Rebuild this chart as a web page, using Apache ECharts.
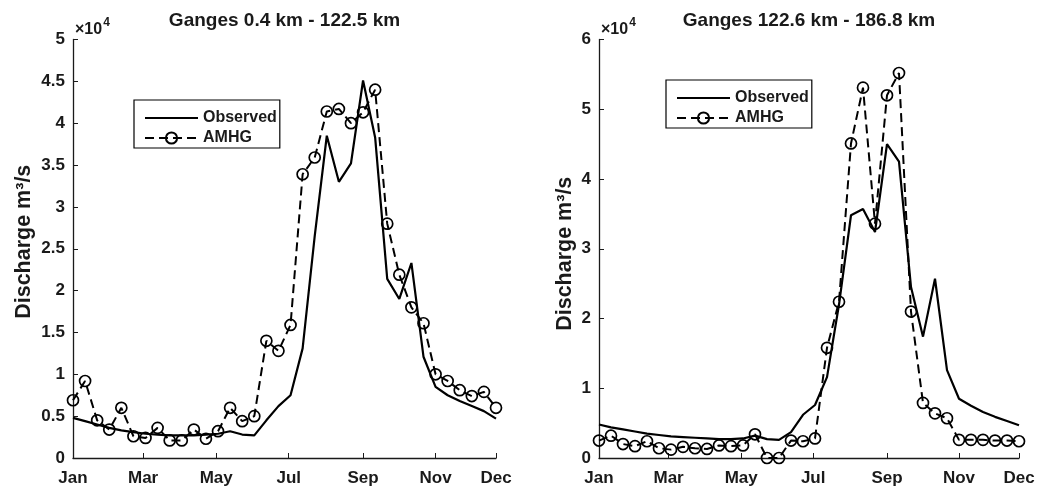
<!DOCTYPE html>
<html>
<head>
<meta charset="utf-8">
<script src="https://cdn.jsdelivr.net/npm/echarts@6/dist/echarts.min.js"></script>
<style>
  html, body { margin: 0; padding: 0; background: #fff; }
  #chart { width: 1045px; height: 489px; }
</style>
</head>
<body>
<div id="chart"></div>
<script>
// dekad index (3 per month) along the year
const dekads = [1, 2, 3, 4, 5, 6, 7, 8, 9, 10, 11, 12, 13, 14, 15, 16, 17, 18,
  19, 20, 21, 22, 23, 24, 25, 26, 27, 28, 29, 30, 31, 32, 33, 34, 35, 36]

// month tick positions on the dekad scale, and their labels
const monthTicks = [1, 6.8, 12.85, 18.85, 25, 31, 36]
const monthLabels = ['Jan', 'Mar', 'May', 'Jul', 'Sep', 'Nov', 'Dec']

const panelTitles = ['Ganges 0.4 km - 122.5 km', 'Ganges 122.6 km - 186.8 km']
const yMax = [50000, 60000]
const yStep = [5000, 10000]

// discharge, m3/s
const upstreamObserved = [4800, 4400, 4000, 3600, 3300, 3100, 2900, 2800, 2700, 2700, 2700, 2800,
  2900, 3200, 2800, 2700, 4500, 6200, 7500, 13100, 26500, 38500, 33000, 35200,
  45100, 38300, 21400, 19000, 23300, 12100, 8500, 7500, 6800, 6200, 5600, 4700]
const upstreamAmhg = [6900, 9200, 4500, 3400, 6000, 2600, 2400, 3600, 2100, 2100, 3400, 2300,
  3200, 6000, 4400, 5000, 14000, 12800, 15900, 33900, 35900, 41400, 41700, 40000,
  41300, 44000, 28000, 21900, 18000, 16100, 10000, 9200, 8100, 7400, 7900, 6000]

const downstreamObserved = [4800, 4400, 4100, 3800, 3500, 3300, 3100, 3000, 2900, 2800, 2700, 2700,
  2800, 3200, 2700, 2600, 3700, 6200, 7600, 11600, 22000, 34800, 35700, 32400,
  45000, 42500, 24500, 17400, 25700, 12600, 8500, 7500, 6600, 5900, 5300, 4700]
const downstreamAmhg = [2500, 3200, 2000, 1700, 2400, 1400, 1200, 1600, 1400, 1300, 1800, 1700,
  1800, 3400, 0, 0, 2500, 2400, 2800, 15800, 22400, 45100, 53100, 33600,
  52000, 55200, 21000, 7900, 6400, 5700, 2600, 2600, 2600, 2500, 2500, 2400]

const FONT = "'Liberation Sans', Arial, Helvetica, sans-serif"
const INK = '#1a1a1a'

const panels = [
  { left: 73, width: 423, observed: upstreamObserved, amhg: upstreamAmhg,
    nameGap: 38, namePad: [0, 0, 0, 14], legendLeft: 134, legendTop: 100 },
  { left: 599, width: 420, observed: downstreamObserved, amhg: downstreamAmhg,
    nameGap: 23, namePad: [0, 10, 0, 0], legendLeft: 666, legendTop: 80 }
]

const chart = echarts.init(document.getElementById('chart'), null, { renderer: 'canvas' })

const grid = [], xAxis = [], yAxis = [], series = [], title = [], legend = []

panels.forEach((p, i) => {
  grid.push({ left: p.left, width: p.width, top: 39.5, height: 418.5, containLabel: false })

  xAxis.push({
    type: 'value', gridIndex: i, min: 1, max: 36,
    axisLine: { lineStyle: { color: INK, width: 1.3 } },
    axisTick: { inside: true, length: 5, customValues: monthTicks, lineStyle: { color: INK } },
    axisLabel: {
      customValues: monthTicks, margin: 12,
      color: INK, fontFamily: FONT, fontWeight: 'bold', fontSize: 17,
      formatter: v => monthLabels[monthTicks.indexOf(v)]
    },
    splitLine: { show: false }
  })

  yAxis.push({
    type: 'value', gridIndex: i, min: 0, max: yMax[i], interval: yStep[i],
    name: 'Discharge m³/s', nameLocation: 'middle', nameGap: p.nameGap,
    nameTextStyle: {
      color: INK, fontFamily: FONT, fontWeight: 'bold', fontSize: 21.5, padding: p.namePad
    },
    axisLine: { show: true, lineStyle: { color: INK, width: 1.3 } },
    axisTick: { show: true, inside: true, length: 5, lineStyle: { color: INK } },
    axisLabel: {
      margin: 8, color: INK, fontFamily: FONT, fontWeight: 'bold', fontSize: 17,
      formatter: v => String(v / 10000)
    },
    splitLine: { show: false }
  })

  series.push({
    name: 'Observed', type: 'line', xAxisIndex: i, yAxisIndex: i,
    data: dekads.map((d, k) => [d, p.observed[k]]),
    symbol: 'none', lineStyle: { color: '#000', width: 2.2 },
    itemStyle: { color: 'rgba(0,0,0,0)', borderWidth: 0 }
  })
  series.push({
    name: 'AMHG', type: 'line', xAxisIndex: i, yAxisIndex: i,
    data: dekads.map((d, k) => [d, p.amhg[k]]),
    symbol: 'circle', symbolSize: 11,
    itemStyle: { color: 'rgba(0,0,0,0)', borderColor: '#000', borderWidth: 1.7 },
    lineStyle: { color: '#000', width: 2, type: [9, 5] }
  })

  title.push({
    text: panelTitles[i], left: p.left + p.width / 2, textAlign: 'center', top: 11, padding: 0,
    textStyle: { color: INK, fontFamily: FONT, fontWeight: 'bold', fontSize: 19 }
  })
  title.push({
    text: '{a|×10}{b|4}', left: p.left + 2, top: 17, padding: 0,
    textStyle: {
      rich: {
        a: { color: INK, fontFamily: FONT, fontSize: 16, verticalAlign: 'bottom' },
        b: { color: INK, fontFamily: FONT, fontSize: 12, verticalAlign: 'bottom', padding: [0, 0, 9, 1] }
      }
    }
  })

  legend.push({
    data: ['Observed', 'AMHG'], orient: 'vertical',
    left: p.legendLeft, top: p.legendTop,
    itemWidth: 53, itemHeight: 14, itemGap: 4,
    padding: [10, 3, 2, 10],
    borderColor: '#000', borderWidth: 1.2, backgroundColor: '#fff',
    selectedMode: false,
    textStyle: { color: INK, fontFamily: FONT, fontWeight: 'bold', fontSize: 16 }
  })
})

chart.setOption({
  animation: false,
  backgroundColor: '#fff',
  textStyle: { fontFamily: FONT },
  title, grid, xAxis, yAxis, legend, series
})
</script>
</body>
</html>
